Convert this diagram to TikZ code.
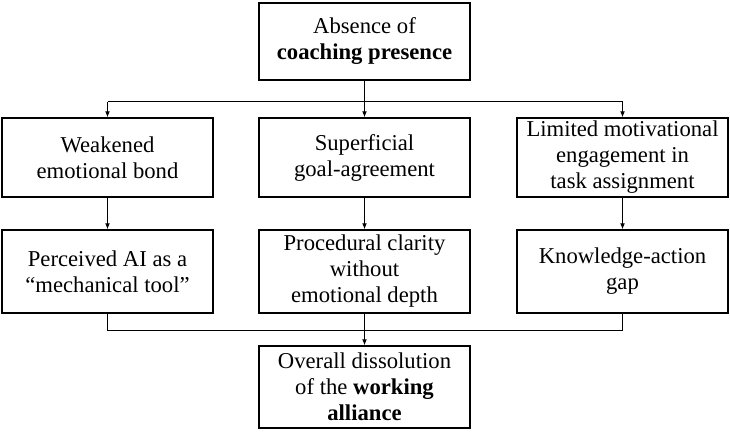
\documentclass[tikz,border=0pt]{standalone}
\usepackage{fontspec}
\setmainfont{Liberation Serif}
\usepackage{xcolor}
\usepackage{tikz}
\usetikzlibrary{arrows.meta}

\begin{document}
\begin{tikzpicture}[x=0.75pt, y=-0.75pt,
    box/.style={draw, line width=1pt, align=center, minimum width=158.25pt,
        inner sep=2pt, font=\fontsize{17}{19.5}\selectfont},
    link/.style={line width=0.75pt},
    arrow/.style={link, -{Latex[length=4.5pt,width=3.6pt]}}]
    % picture size as the reference
    \useasboundingbox (0,0) rectangle (730,431);

    % here is the top box
    \node[box, minimum height=57.75pt] (absence) at (364.5,41.5)
        {Absence of\\\textbf{coaching presence}};

    % first row
    \node[box, minimum height=59.25pt] (bond) at (107.5,157.5)
        {Weakened\\emotional bond};
    \node[box, minimum height=59.25pt] (goal) at (364.5,157.5)
        {Superficial\\goal-agreement};
    \node[box, minimum height=59.25pt] (task) at (622.5,157.5)
        {Limited motivational\\engagement in\\task assignment};

    % second row
    \node[box, minimum height=62.25pt] (tool) at (107.5,271.5)
        {Perceived AI as a\\“mechanical tool”};
    \node[box, minimum height=62.25pt] (depth) at (364.5,271.5)
        {Procedural clarity\\without\\emotional depth};
    \node[box, minimum height=62.25pt] (gap) at (622.5,271.5)
        {Knowledge-action\\gap};

    % bottom box
    \node[box, minimum height=61.5pt] (alliance) at (364.5,387)
        {Overall dissolution\\of the \textbf{working}\\\textbf{alliance}};

    % using coordinates for the junction lines
    \coordinate (split) at (364.5,102);
    \coordinate (merge) at (364.5,330);

    % top to first row
    \draw[arrow] (absence) -- (goal);
    \draw[link] (bond.north |- split) -- (task.north |- split);
    \draw[arrow] (bond.north |- split) -- (bond);
    \draw[arrow] (task.north |- split) -- (task);

    % first row to second row
    \draw[arrow] (bond) -- (tool);
    \draw[arrow] (goal) -- (depth);
    \draw[arrow] (task) -- (gap);

    % second row to bottom
    \draw[link] (tool) -- (tool |- merge) -- (gap |- merge) -- (gap);
    \draw[arrow] (depth) -- (alliance);
\end{tikzpicture}
\end{document}
